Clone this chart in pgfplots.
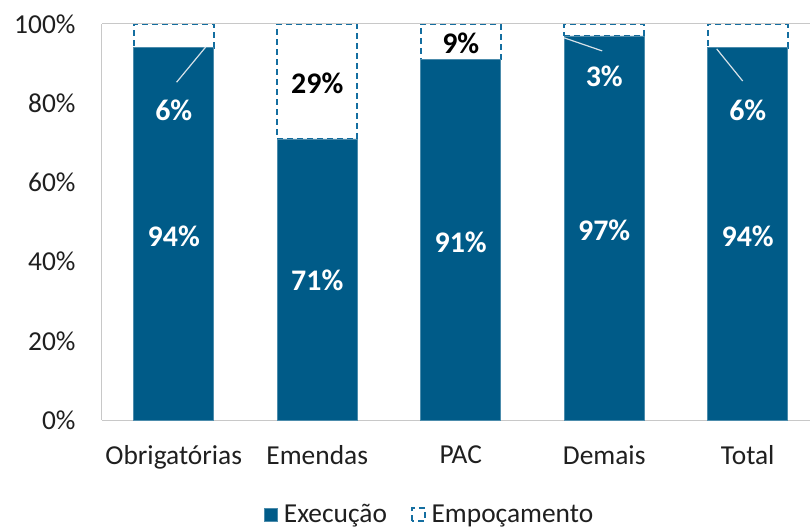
\documentclass[border=0pt]{standalone}
\usepackage{pgfplots}
\pgfplotsset{compat=1.18}
\usepackage{fontspec}
\setmainfont{Carlito}
\usetikzlibrary{calc}

\definecolor{execblue}{RGB}{0,91,136}
\definecolor{empcblue}{RGB}{20,110,160}
\definecolor{axgray}{RGB}{200,200,200}
\definecolor{leader}{RGB}{215,225,232}

\begin{document}
\begin{tikzpicture}
\begin{axis}[
    name=ax,
    scale only axis,
    width=708bp,
    height=396bp,
    ybar stacked,
    bar width=80bp,
    xmin=-0.5, xmax=4.434,
    ymin=0, ymax=100,
    xtick={0,1,2,3,4},
    xticklabels={Obrigatórias,Emendas,PAC,Demais,Total},
    ytick={0,20,40,60,80,100},
    yticklabel={\pgfmathprintnumber{\tick}\%},
    /pgf/number format/assume math mode=true,
    tick style={draw=none},
    axis lines*=left,
    axis line style={draw=axgray, line width=1bp, -},
    ticklabel style={font=\fontsize{27.5}{32}\selectfont, text=black!88},
    yticklabel style={xshift=-23bp},
    xticklabel style={yshift=-22bp},
    clip=false,
    legend style={at={(0.463,-0.238)}, anchor=center, draw=none,
        legend columns=2, font=\fontsize{27.5}{32}\selectfont, text=black!88,
        /tikz/every odd column/.append style={column sep=4bp},
        /tikz/every even column/.append style={column sep=22bp}},
    legend image code/.code={\draw[#1] (0bp,-7bp) rectangle (13bp,6bp);},
]
\addplot[fill=execblue, draw=execblue!70!white, line width=0.6bp]
    coordinates {(0,94) (1,71) (2,91) (3,97) (4,94)};
\addplot[fill=white, draw=empcblue, line width=1.6bp, dash pattern=on 6bp off 4bp]
    coordinates {(0,6) (1,29) (2,9) (3,3) (4,6)};
\legend{Execução,Empoçamento}
\end{axis}

% annotations in the axis' units (x: category, y: percent)
\begin{scope}[shift={($(ax.south west)+(71.75bp,0)$)}, x=143.49bp, y=3.96bp]
\draw[axgray, line width=1bp] (-0.5,100) -- (4.434,100);
\draw[leader, line width=1.2bp] (0.223,94.2) -- (0.02,85.3);
\draw[leader, line width=1.2bp] (2.721,96.5) -- (2.986,93.2);
\draw[leader, line width=1.2bp] (3.784,93.7) -- (3.965,85.6);
\begin{scope}[every node/.style={font=\fontsize{30}{34}\selectfont\bfseries, text=white}]
\node at (0,46.5) {94\%};
\node at (1,35.2) {71\%};
\node at (2,44.8) {91\%};
\node at (3,47.8) {97\%};
\node at (4,46.5) {94\%};
\node at (0,78.3) {6\%};
\node[text=black] at (1,85.0) {29\%};
\node[text=black] at (2,95.0) {9\%};
\node at (3,86.8) {3\%};
\node at (4,78.3) {6\%};
\end{scope}
\end{scope}

\pgfresetboundingbox
\path[use as bounding box] ($(ax.south west)+(-102bp,-111bp)$) rectangle ($(ax.south west)+(708bp,420bp)$);
\end{tikzpicture}
\end{document}
